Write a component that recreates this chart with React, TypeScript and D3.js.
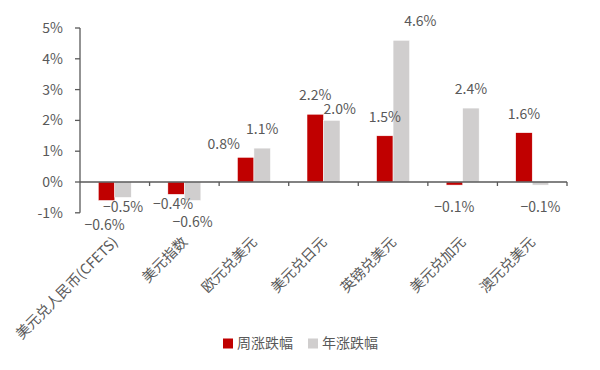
import React from 'react';
import * as d3 from 'd3';

// 汇率周/年涨跌幅
const categories = ['美元兑人民币(CFETS)', '美元指数', '欧元兑美元', '美元兑日元', '英镑兑美元', '美元兑加元', '澳元兑美元'];
const weekly = [-0.6, -0.4, 0.8, 2.2, 1.5, -0.1, 1.6];
const yearly = [-0.5, -0.6, 1.1, 2.0, 4.6, 2.4, -0.1];
const seriesNames = ['周涨跌幅', '年涨跌幅'];
const yTicks = [-1, 0, 1, 2, 3, 4, 5];

const colors = ['#c00000', '#d0cece'];
const textColor = '#595959';
const axisColor = '#595959';
const font = '"Noto Sans CJK SC", "Noto Sans", sans-serif';

// hand nudges for the data labels (px), like the original's dragged labels
const nudgeWeekly = [[-2, 3], [-3, -12], [-22, 6], [0, 0], [0, 0], [0, 0], [0, 0]];
const nudgeYearly = [[0, -12], [0, 0], [0, 0], [8, 8], [19, 0], [0, 0], [0, 0]];

const App = () => {
    const width = 600, height = 370;
    const margin = {left: 80, right: 33, top: 28};
    const plotRight = width - margin.right;

    const y = d3.scaleLinear().domain([-1, 5]).range([212.8, margin.top]);
    const x0 = d3.scaleBand().domain(categories).range([margin.left, plotRight])
        .paddingInner(0.526).paddingOuter(0.263);
    const x1 = d3.scaleBand().domain(seriesNames).range([0, x0.bandwidth()]);
    const step = x0.step();
    const boundaries = d3.range(categories.length + 1).map(i => margin.left + i * step);

    const series = [weekly, yearly];
    const nudges = [nudgeWeekly, nudgeYearly];
    const fmt = d3.format('.1f');

    return (
        <svg width={width} height={height} style={{position: 'absolute', left: 0, top: 0, fontFamily: font}}>
            <rect width={width} height={height} fill="#fff"/>

            {/* bars */}
            {categories.map((c, i) => <g key={c} transform={`translate(${x0(c)},0)`}>
                {series.map((s, k) => {
                    const v = s[i];
                    return <rect key={k} x={x1(seriesNames[k])} width={x1.bandwidth()}
                                 y={Math.min(y(v), y(0))} height={Math.abs(y(v) - y(0))}
                                 fill={colors[k]} stroke="#fff" strokeWidth={0.5}/>;
                })}
            </g>)}

            {/* axes */}
            <g stroke={axisColor} strokeWidth={1.3}>
                <line x1={margin.left} x2={margin.left} y1={y(5)} y2={y(-1)}/>
                {yTicks.map(t => <line key={t} x1={margin.left - 5} x2={margin.left} y1={y(t)} y2={y(t)}/>)}
                <line x1={margin.left} x2={plotRight} y1={y(0)} y2={y(0)}/>
                {boundaries.slice(1).map((b, i) => <line key={i} x1={b} x2={b} y1={y(0)} y2={y(0) + 4}/>)}
            </g>
            {yTicks.map(t => <text key={t} x={margin.left - 17} y={y(t)} dy="0.35em" textAnchor="end"
                                   fontSize={14} fill={textColor}>{t + '%'}</text>)}

            {/* data labels */}
            {categories.map((c, i) => series.map((s, k) => {
                const v = s[i];
                const cx = x0(c) + x1(seriesNames[k]) + x1.bandwidth() / 2 + nudges[k][i][0];
                const cy = y(v) + (v >= 0 ? -19 : 22) + nudges[k][i][1];
                return <text key={c + k} x={cx} y={cy} dy="0.35em" textAnchor="middle"
                             fontSize={14} fill={textColor}>{fmt(v) + '%'}</text>;
            }))}

            {/* category labels */}
            {categories.map(c => {
                const ax = x0(c) + x0.bandwidth() / 2 + 4;
                const ay = 243;
                return <text key={c} transform={`translate(${ax},${ay}) rotate(-45)`} textAnchor="end"
                             fontSize={14.3} fill={textColor}>{c}</text>;
            })}

            {/* legend */}
            <g>
                <rect x={223} y={338.5} width={10} height={10} fill={colors[0]}/>
                <text x={237} y={343.5} dy="0.35em" fontSize={14} fill={textColor}>{seriesNames[0]}</text>
                <rect x={308} y={338.5} width={10} height={10} fill={colors[1]}/>
                <text x={322} y={343.5} dy="0.35em" fontSize={14} fill={textColor}>{seriesNames[1]}</text>
            </g>
        </svg>
    );
};

export default App;
